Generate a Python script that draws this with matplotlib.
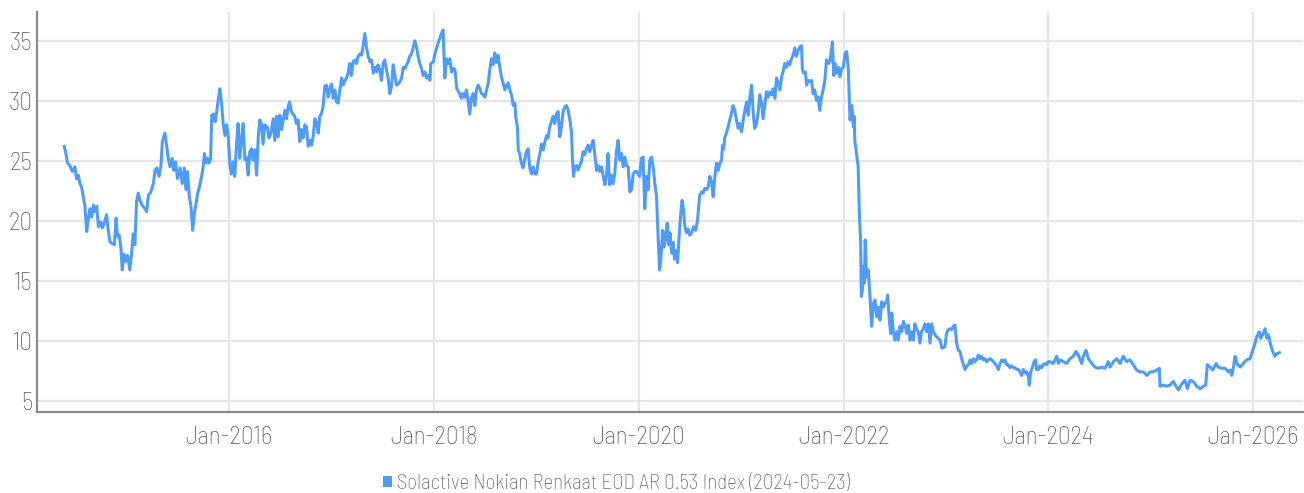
import matplotlib
matplotlib.use("Agg")
import matplotlib.pyplot as plt
from matplotlib.font_manager import FontProperties
from matplotlib.textpath import TextPath
from matplotlib.patches import Patch
import pandas as pd

# ---------------- data ----------------
dates_a = ["2014-05-24", "2014-05-29", "2014-06-05", "2014-06-13", "2014-06-22", "2014-07-01", "2014-07-07",
           "2014-07-13", "2014-07-19", "2014-07-25", "2014-07-31", "2014-08-06", "2014-08-12", "2014-08-18",
           "2014-08-24", "2014-08-30", "2014-09-05", "2014-09-11", "2014-09-17", "2014-09-23", "2014-10-01",
           "2014-10-07", "2014-10-14", "2014-10-22", "2014-10-28", "2014-11-03", "2014-11-11", "2014-11-19",
           "2014-11-25", "2014-11-30", "2014-12-06", "2014-12-12", "2014-12-17", "2014-12-23", "2014-12-29",
           "2015-01-05", "2015-01-13", "2015-01-19", "2015-01-25", "2015-01-31", "2015-02-06", "2015-02-12",
           "2015-02-18", "2015-02-26", "2015-03-08", "2015-03-14", "2015-03-20", "2015-03-29", "2015-04-07",
           "2015-04-13", "2015-04-19", "2015-04-27", "2015-05-04", "2015-05-09", "2015-05-18", "2015-05-24",
           "2015-05-30", "2015-06-05", "2015-06-13", "2015-06-19", "2015-06-25", "2015-07-02", "2015-07-11",
           "2015-07-19", "2015-07-26", "2015-08-01", "2015-08-07", "2015-08-13", "2015-08-19", "2015-08-25",
           "2015-08-31", "2015-09-06", "2015-09-12", "2015-09-18", "2015-09-24", "2015-09-30", "2015-10-06",
           "2015-10-11", "2015-10-17", "2015-10-22", "2015-10-28", "2015-11-01", "2015-11-07", "2015-11-13",
           "2015-11-19", "2015-11-24", "2015-11-30", "2015-12-06", "2015-12-12", "2015-12-18", "2015-12-24",
           "2015-12-30", "2016-01-04", "2016-01-10", "2016-01-16", "2016-01-22", "2016-01-28", "2016-02-03",
           "2016-02-09", "2016-02-15", "2016-02-21", "2016-02-27"]
values_a = [26.2, 25.75, 24.8, 24.6, 24.1, 24.5, 23.5,
            23.8, 23.1, 22.8, 22.0, 21.2, 19.1, 20.1,
            21.0, 20.3, 21.3, 20.75, 21.2, 19.5, 19.9,
            19.4, 19.8, 20.5, 19.2, 18.25, 18.1, 18.0,
            20.2, 18.7, 18.8, 17.8, 15.9, 17.2, 16.6,
            17.1, 15.9, 17.2, 18.9, 18.0, 21.6, 22.3,
            21.7, 21.3, 21.0, 20.75, 22.1, 22.4, 23.1,
            24.2, 24.4, 23.7, 24.6, 26.6, 27.3, 26.3,
            25.2, 24.5, 25.2, 24.2, 24.9, 23.5, 24.4,
            23.1, 24.4, 22.6, 24.1, 22.0, 21.2, 19.2,
            20.6, 21.4, 22.3, 22.8, 23.5, 24.2, 25.6,
            24.8, 25.2, 24.8, 25.1, 28.8, 28.9, 28.25,
            29.1, 30.05, 31.0, 29.8, 28.1, 27.1, 28.0,
            27.0, 24.8, 23.9, 24.9, 23.7, 26.2, 28.1,
            25.2, 26.7, 28.1, 25.1]

dates_b = ["2016-03-04", "2016-03-10", "2016-03-16", "2016-03-22", "2016-03-28", "2016-04-03", "2016-04-09",
           "2016-04-15", "2016-04-20", "2016-04-26", "2016-05-02", "2016-05-08", "2016-05-17", "2016-05-23",
           "2016-05-30", "2016-06-07", "2016-06-13", "2016-06-19", "2016-06-25", "2016-07-01", "2016-07-07",
           "2016-07-13", "2016-07-19", "2016-07-25", "2016-07-31", "2016-08-05", "2016-08-11", "2016-08-17",
           "2016-08-23", "2016-08-29", "2016-09-04", "2016-09-10", "2016-09-16", "2016-09-22", "2016-09-28",
           "2016-10-04", "2016-10-10", "2016-10-16", "2016-10-22", "2016-10-28", "2016-11-03", "2016-11-09",
           "2016-11-15", "2016-11-20", "2016-11-26", "2016-12-02", "2016-12-08", "2016-12-14", "2016-12-20",
           "2016-12-26", "2017-01-01", "2017-01-07", "2017-01-13", "2017-01-19", "2017-01-25", "2017-01-31",
           "2017-02-06", "2017-02-12", "2017-02-18", "2017-02-24", "2017-03-01", "2017-03-07", "2017-03-13",
           "2017-03-19", "2017-03-25", "2017-03-31", "2017-04-06", "2017-04-12", "2017-04-18", "2017-04-24",
           "2017-04-30", "2017-05-06", "2017-05-12", "2017-05-18", "2017-05-24", "2017-05-30", "2017-06-05",
           "2017-06-11", "2017-06-16", "2017-06-22", "2017-06-28", "2017-07-04", "2017-07-10", "2017-07-16",
           "2017-07-22", "2017-07-28", "2017-08-03", "2017-08-09", "2017-08-15", "2017-08-21", "2017-08-27",
           "2017-09-02", "2017-09-08", "2017-09-14", "2017-09-20", "2017-09-26", "2017-10-01", "2017-10-07",
           "2017-10-13", "2017-10-19", "2017-10-25", "2017-10-31", "2017-11-06", "2017-11-12", "2017-11-18",
           "2017-11-24", "2017-11-30", "2017-12-06", "2017-12-12", "2017-12-18", "2017-12-21", "2017-12-30",
           "2018-01-05", "2018-01-11", "2018-01-16", "2018-01-22", "2018-01-28", "2018-02-03", "2018-02-09",
           "2018-02-15", "2018-02-21", "2018-02-27", "2018-03-05", "2018-03-11", "2018-03-17"]
values_b = [25.3, 23.8, 25.75, 26.0, 25.05, 25.9, 23.8,
            27.0, 28.4, 28.1, 26.4, 28.0, 27.8, 26.9,
            27.3, 28.5, 26.7, 28.7, 27.0, 28.8, 27.6,
            28.4, 29.2, 28.5, 29.6, 29.9, 29.1, 28.9,
            28.7, 28.1, 28.4, 26.6, 27.6, 26.9, 28.0,
            27.8, 26.2, 26.7, 26.3, 27.1, 28.5, 28.1,
            27.3, 28.7, 28.9, 29.5, 31.2, 31.3, 30.3,
            31.0, 31.4, 30.2, 30.9, 29.9, 29.8, 30.9,
            31.9, 31.3, 31.7, 31.9, 32.3, 33.1, 32.1,
            33.25, 33.4, 33.1, 33.7, 33.9, 33.8, 34.6,
            35.6, 34.4, 33.7, 33.25, 33.4, 32.3, 32.8,
            32.4, 33.0, 32.6, 31.7, 33.1, 33.4, 32.6,
            31.9, 30.6, 31.2, 33.0, 32.1, 31.3, 31.4,
            31.6, 31.9, 32.8, 32.7, 33.0, 33.25, 33.7,
            33.9, 34.4, 35.0, 34.5, 33.7, 33.1, 32.7,
            32.1, 32.4, 31.9, 32.1, 31.7, 33.1, 33.25,
            33.9, 34.4, 34.8, 35.2, 35.6, 35.9, 31.9,
            33.5, 33.1, 33.5, 32.4, 32.7, 32.6]

dates_c = ["2018-03-24", "2018-04-03", "2018-04-09", "2018-04-15", "2018-04-21", "2018-04-27", "2018-05-03",
           "2018-05-09", "2018-05-15", "2018-05-21", "2018-05-27", "2018-06-02", "2018-06-08", "2018-06-14",
           "2018-06-20", "2018-06-26", "2018-07-02", "2018-07-08", "2018-07-14", "2018-07-19", "2018-07-25",
           "2018-07-31", "2018-08-06", "2018-08-12", "2018-08-18", "2018-08-24", "2018-08-30", "2018-09-05",
           "2018-09-11", "2018-09-17", "2018-09-23", "2018-09-29", "2018-10-05", "2018-10-11", "2018-10-17",
           "2018-10-20", "2018-10-26", "2018-10-29", "2018-11-03", "2018-11-09", "2018-11-15", "2018-11-21",
           "2018-11-27", "2018-12-03", "2018-12-09", "2018-12-15", "2018-12-21", "2018-12-27", "2019-01-02",
           "2019-01-08", "2019-01-13", "2019-01-20", "2019-01-26", "2019-02-01", "2019-02-07", "2019-02-12",
           "2019-02-18", "2019-02-24", "2019-03-02", "2019-03-08", "2019-03-14", "2019-03-20", "2019-03-26",
           "2019-04-01", "2019-04-07", "2019-04-13", "2019-04-19", "2019-04-25", "2019-05-01", "2019-05-07",
           "2019-05-10", "2019-05-14", "2019-05-19", "2019-05-25", "2019-05-30", "2019-06-05", "2019-06-11",
           "2019-06-17", "2019-06-23", "2019-06-29", "2019-07-05", "2019-07-11", "2019-07-17", "2019-07-23",
           "2019-07-29", "2019-08-04", "2019-08-10", "2019-08-16", "2019-08-22", "2019-08-28", "2019-09-03",
           "2019-09-09", "2019-09-14", "2019-09-20", "2019-09-26", "2019-10-02", "2019-10-08", "2019-10-14",
           "2019-10-20", "2019-10-26", "2019-11-01", "2019-11-07", "2019-11-13", "2019-11-19", "2019-11-25",
           "2019-12-01", "2019-12-07", "2019-12-13", "2019-12-19", "2019-12-25", "2019-12-30", "2020-01-05",
           "2020-01-11", "2020-01-17", "2020-01-23", "2020-01-29", "2020-02-04", "2020-02-10", "2020-02-16",
           "2020-02-22"]
values_c = [31.0, 30.6, 30.2, 30.6, 30.3, 30.9, 30.05,
            28.9, 30.2, 30.6, 29.6, 30.9, 31.3, 31.0,
            30.6, 30.5, 30.3, 30.9, 31.5, 32.5, 33.5,
            33.0, 34.0, 33.2, 33.8, 32.8, 32.0, 31.5,
            30.9, 31.2, 31.5, 30.9, 30.5, 29.6, 29.8,
            28.7, 27.8, 25.9, 25.6, 24.8, 24.4, 25.1,
            25.75, 26.0, 24.4, 23.9, 24.5, 23.9, 23.9,
            24.9, 25.5, 26.4, 25.9, 26.6, 27.1, 26.9,
            27.8, 28.25, 28.7, 28.1, 28.9, 29.1, 27.0,
            27.8, 29.1, 29.5, 29.6, 29.2, 28.4, 27.3,
            25.3, 23.7, 24.5, 24.6, 24.2, 24.6, 24.9,
            25.75, 25.5, 26.0, 26.3, 25.75, 26.3, 26.7,
            25.5, 24.2, 24.6, 24.1, 24.5, 23.7, 23.0,
            23.9, 25.6, 23.0, 23.8, 23.1, 23.9, 25.75,
            26.7, 25.05, 25.6, 24.5, 25.3, 24.6, 24.5,
            22.4, 22.6, 23.9, 24.1, 24.1, 23.9, 23.7,
            25.2, 25.3, 21.0, 23.7, 22.6, 25.05, 25.3,
            24.5]

dates_d = ["2020-02-28", "2020-03-05", "2020-03-10", "2020-03-16", "2020-03-21", "2020-03-27", "2020-04-01",
           "2020-04-06", "2020-04-12", "2020-04-17", "2020-04-22", "2020-04-28", "2020-05-03", "2020-05-08",
           "2020-05-14", "2020-05-19", "2020-05-24", "2020-05-30", "2020-06-04", "2020-06-09", "2020-06-14",
           "2020-06-20", "2020-06-25", "2020-07-01", "2020-07-08", "2020-07-15", "2020-07-22", "2020-07-29",
           "2020-08-06", "2020-08-12", "2020-08-18", "2020-08-24", "2020-08-30", "2020-09-05", "2020-09-11",
           "2020-09-17", "2020-09-23", "2020-09-29", "2020-10-05", "2020-10-11", "2020-10-17", "2020-10-23",
           "2020-10-26", "2020-10-31", "2020-11-03", "2020-11-09", "2020-11-15", "2020-11-21", "2020-11-27",
           "2020-12-03", "2020-12-09", "2020-12-15", "2020-12-21", "2020-12-27", "2021-01-02", "2021-01-08",
           "2021-01-14", "2021-01-20", "2021-01-26", "2021-02-01", "2021-02-07", "2021-02-13", "2021-02-18",
           "2021-02-24", "2021-03-02", "2021-03-08", "2021-03-14", "2021-03-20", "2021-03-26", "2021-04-01",
           "2021-04-07", "2021-04-13", "2021-04-19", "2021-04-25", "2021-05-01", "2021-05-07", "2021-05-13",
           "2021-05-19", "2021-05-25", "2021-05-30", "2021-06-05", "2021-06-11", "2021-06-17", "2021-06-23",
           "2021-06-29", "2021-07-05", "2021-07-11", "2021-07-17", "2021-07-23", "2021-07-29", "2021-08-04",
           "2021-08-07", "2021-08-12", "2021-08-18", "2021-08-22", "2021-08-28", "2021-09-03", "2021-09-09",
           "2021-09-14", "2021-09-20", "2021-09-26", "2021-10-02", "2021-10-08", "2021-10-14", "2021-10-20",
           "2021-10-26", "2021-11-01", "2021-11-07", "2021-11-13", "2021-11-19", "2021-11-22", "2021-11-27",
           "2021-12-02", "2021-12-07", "2021-12-13", "2021-12-19"]
values_d = [23.1, 22.0, 19.0, 15.9, 17.0, 19.2, 17.8,
            18.5, 19.8, 18.0, 19.0, 17.3, 18.2, 16.8,
            17.5, 16.5, 18.5, 20.5, 21.7, 21.0, 19.5,
            19.0, 19.3, 18.8, 19.0, 19.5, 19.2, 20.0,
            22.1, 22.4, 22.3, 22.7, 22.6, 22.8, 23.7,
            23.25, 22.0, 23.7, 24.8, 24.2, 24.8, 25.05,
            26.3, 26.0, 26.9, 27.3, 27.8, 28.4, 28.9,
            29.6, 29.2, 28.4, 27.7, 28.1, 27.4, 28.4,
            29.2, 29.9, 28.8, 30.3, 31.3, 28.9, 27.7,
            28.1, 28.9, 30.5, 29.9, 28.5, 29.6, 30.75,
            30.3, 30.75, 30.5, 31.0, 30.2, 31.9, 31.4,
            30.9, 32.0, 32.4, 33.1, 32.8, 33.25, 33.0,
            33.5, 33.8, 34.4, 33.7, 34.2, 34.5, 34.6,
            32.6, 32.3, 32.4, 31.3, 31.7, 31.6, 31.7,
            30.6, 30.9, 30.05, 30.3, 29.2, 30.3, 30.9,
            31.7, 33.4, 33.1, 33.25, 34.4, 34.9, 32.1,
            33.1, 32.3, 32.8, 32.0]

dates_e = ["2021-12-25", "2021-12-31", "2022-01-06", "2022-01-12", "2022-01-18", "2022-01-21", "2022-01-24",
           "2022-01-30", "2022-02-05", "2022-02-08", "2022-02-10", "2022-02-16", "2022-02-22", "2022-02-26",
           "2022-03-03", "2022-03-05", "2022-03-09", "2022-03-12", "2022-03-16", "2022-03-19", "2022-03-24",
           "2022-03-30", "2022-04-05", "2022-04-11", "2022-04-17", "2022-04-23", "2022-04-29", "2022-05-05",
           "2022-05-11", "2022-05-17", "2022-05-23", "2022-05-28", "2022-06-03", "2022-06-07", "2022-06-13",
           "2022-06-18", "2022-06-22", "2022-06-27", "2022-07-03", "2022-07-09", "2022-07-15", "2022-07-21",
           "2022-07-27", "2022-08-02", "2022-08-08", "2022-08-14", "2022-08-20", "2022-08-26", "2022-09-01",
           "2022-09-07", "2022-09-12", "2022-09-18", "2022-09-24", "2022-09-30", "2022-10-06", "2022-10-12",
           "2022-10-18", "2022-10-24", "2022-10-30", "2022-11-05", "2022-11-11", "2022-11-17", "2022-11-23",
           "2022-11-29", "2022-12-05", "2022-12-11", "2022-12-17", "2022-12-22", "2022-12-28", "2023-01-03",
           "2023-01-09", "2023-01-15", "2023-01-21", "2023-01-27", "2023-02-02", "2023-02-08", "2023-02-14",
           "2023-02-20", "2023-02-26", "2023-03-04", "2023-03-10", "2023-03-16", "2023-03-22", "2023-03-28",
           "2023-04-03", "2023-04-09", "2023-04-14", "2023-04-20", "2023-04-26", "2023-05-02", "2023-05-08",
           "2023-05-14", "2023-05-20", "2023-05-26", "2023-06-01", "2023-06-07", "2023-06-13", "2023-06-19",
           "2023-06-25", "2023-07-01", "2023-07-07", "2023-07-13", "2023-07-19", "2023-07-24", "2023-07-30",
           "2023-08-05", "2023-08-11", "2023-08-17", "2023-08-23", "2023-08-29", "2023-09-04", "2023-09-10",
           "2023-09-16", "2023-09-22", "2023-09-28", "2023-10-04", "2023-10-10", "2023-10-16", "2023-10-22",
           "2023-10-25", "2023-10-30", "2023-11-05", "2023-11-11", "2023-11-17", "2023-11-20", "2023-11-26",
           "2023-12-02", "2023-12-08", "2023-12-14", "2023-12-20", "2023-12-26", "2024-01-01", "2024-01-07"]
values_e = [32.7, 32.8, 33.9, 34.1, 32.6, 30.3, 28.4,
            29.6, 27.8, 28.7, 26.7, 25.6, 24.5, 20.75,
            18.1, 13.7, 14.2, 16.2, 14.8, 18.4, 15.3,
            15.9, 13.7, 11.2, 13.1, 13.4, 12.0, 12.8,
            11.7, 13.25, 12.8, 13.1, 13.25, 13.8, 11.7,
            10.6, 12.3, 10.75, 10.05, 10.75, 10.05, 11.2,
            10.75, 11.6, 11.3, 10.6, 11.3, 10.05, 10.75,
            10.05, 11.4, 11.0, 10.75, 9.8, 10.75, 11.0,
            11.4, 10.75, 11.4, 9.8, 11.4, 10.75, 10.5,
            10.3, 10.2, 10.05, 9.4, 9.4, 9.5, 10.6,
            10.9, 11.0, 10.9, 11.2, 11.3, 9.8, 9.2,
            9.1, 8.5, 8.0, 7.6, 7.9, 8.0, 8.4,
            8.1, 8.5, 8.25, 8.4, 8.8, 8.5, 8.7,
            8.4, 8.5, 8.25, 8.4, 8.5, 8.4, 8.25,
            8.1, 7.9, 7.6, 8.1, 8.4, 8.25, 8.4,
            8.0, 8.0, 7.75, 7.9, 7.75, 7.75, 7.6,
            7.6, 7.4, 7.1, 7.6, 7.3, 7.4, 7.0,
            6.3, 7.4, 7.75, 8.25, 8.4, 7.6, 7.6,
            7.9, 7.75, 8.0, 8.1, 8.0, 8.25, 8.25]

dates_f = ["2024-01-19", "2024-01-31", "2024-02-06", "2024-02-12", "2024-02-24", "2024-03-06", "2024-03-18",
           "2024-03-30", "2024-04-09", "2024-04-17", "2024-04-29", "2024-05-05", "2024-05-14", "2024-05-23",
           "2024-06-04", "2024-06-15", "2024-06-27", "2024-07-09", "2024-07-21", "2024-08-02", "2024-08-08",
           "2024-08-20", "2024-09-01", "2024-09-13", "2024-09-24", "2024-10-06", "2024-10-18", "2024-10-30",
           "2024-11-11", "2024-11-23", "2024-12-05", "2024-12-17", "2024-12-29", "2025-01-09", "2025-01-21",
           "2025-01-31", "2025-02-02", "2025-02-14", "2025-02-26", "2025-03-10", "2025-03-22", "2025-03-31",
           "2025-04-09", "2025-04-21", "2025-05-02", "2025-05-11", "2025-05-20", "2025-06-01", "2025-06-13",
           "2025-06-25", "2025-07-07", "2025-07-15", "2025-07-21", "2025-07-31", "2025-08-09", "2025-08-21",
           "2025-08-29", "2025-09-10", "2025-09-22", "2025-10-04", "2025-10-10", "2025-10-16", "2025-10-22",
           "2025-10-28", "2025-11-03", "2025-11-15", "2025-11-26", "2025-12-08", "2025-12-20", "2025-12-30",
           "2026-01-07", "2026-01-13", "2026-01-22", "2026-01-27", "2026-02-03", "2026-02-12", "2026-02-18",
           "2026-02-24", "2026-03-02", "2026-03-11", "2026-03-19", "2026-03-25", "2026-04-04"]
values_f = [8.1, 8.7, 8.1, 8.4, 8.25, 8.1, 8.5,
            8.7, 9.1, 8.8, 8.1, 8.7, 9.2, 8.5,
            8.1, 7.8, 7.7, 7.8, 7.7, 8.25, 7.8,
            8.25, 8.5, 8.1, 8.7, 8.25, 8.4, 8.0,
            7.55, 7.4, 7.4, 7.1, 7.4, 7.4, 7.55,
            7.7, 6.2, 6.3, 6.2, 6.3, 6.6, 6.2,
            5.9, 6.4, 6.7, 6.0, 6.7, 6.6, 6.2,
            6.0, 6.2, 6.3, 8.0, 7.8, 7.55, 8.1,
            7.8, 7.7, 7.7, 7.4, 7.55, 7.1, 7.8,
            8.7, 8.1, 7.8, 8.1, 8.4, 8.5, 9.2,
            9.8, 10.3, 10.75, 10.2, 10.5, 11.0, 10.2,
            10.5, 9.8, 9.1, 8.7, 8.9, 9.0]

y_ticks = [5, 10, 15, 20, 25, 30, 35]
x_tick_dates = ["2016-01-01", "2018-01-01", "2020-01-01", "2022-01-01", "2024-01-01", "2026-01-01"]
x_tick_labels = ["Jan-2016", "Jan-2018", "Jan-2020", "Jan-2022", "Jan-2024", "Jan-2026"]
series_label = "Solactive Nokian Renkaat EOD AR 0.53 Index (2024-05-23)"

# ---------------- styling ----------------
LINE_COLOR = "#4f9cf7"
GRID_COLOR = "#e6e6e6"
SPINE_COLOR = "#8a8a8a"
TEXT_COLOR = "#5a5a5a"
FONT = "Barlow Semi Condensed"
WEIGHT = "light"
plt.rcParams["font.family"] = [FONT, "DejaVu Sans"]
plt.rcParams["font.weight"] = WEIGHT


def size_for_width(text, width_px):
    w = TextPath((0, 0), text, size=100,
                 prop=FontProperties(family=FONT, weight=WEIGHT)).get_extents().width
    return 100 * width_px / w  # font size in pixels


# font sizes chosen so that rendered texts span the widths seen in the reference
LEG_PX = size_for_width(series_label, 451)
TICK_PX = size_for_width(x_tick_labels[0], 85)
LEG_FS = LEG_PX * 0.72
TICK_FS = TICK_PX * 0.72

dates = pd.to_datetime(dates_a + dates_b + dates_c + dates_d + dates_e + dates_f)
values = values_a + values_b + values_c + values_d + values_e + values_f

W, H = 1304, 493
fig = plt.figure(figsize=(W / 100, H / 100), dpi=100)
ax = fig.add_axes([37 / W, (H - 411.7) / H, (1303 - 37) / W, (411.7 - 12) / H])

ax.plot(dates, values, color=LINE_COLOR, lw=2.2, solid_joinstyle="round", zorder=3)

ax.set_ylim(4.08, 37.4)
ax.set_xlim(pd.Timestamp("2014-02-16"), pd.Timestamp("2026-06-27"))
ax.set_yticks(y_ticks)
ax.set_yticklabels([str(v) for v in y_ticks])
ax.set_xticks(pd.to_datetime(x_tick_dates))
ax.set_xticklabels(x_tick_labels)

ax.grid(True, color=GRID_COLOR, lw=1.6)
ax.set_axisbelow(True)
for s in ("top", "right"):
    ax.spines[s].set_visible(False)
for s in ("left", "bottom"):
    ax.spines[s].set_color(SPINE_COLOR)
    ax.spines[s].set_linewidth(1.6)

ax.tick_params(axis="both", length=0, labelsize=TICK_FS, labelcolor=TEXT_COLOR)
ax.tick_params(axis="x", pad=10)
ax.tick_params(axis="y", pad=3.5)

sq = 9 / LEG_PX
handle = Patch(facecolor=LINE_COLOR, edgecolor="none")
fig.legend(handles=[handle], labels=[series_label], loc="center left",
           bbox_to_anchor=(383 / W, 1 - 483.5 / H), frameon=False,
           handlelength=sq, handleheight=sq, handletextpad=5 / LEG_PX,
           borderpad=0, borderaxespad=0, fontsize=LEG_FS, labelcolor=TEXT_COLOR)

fig.savefig("out.png", dpi=100)
